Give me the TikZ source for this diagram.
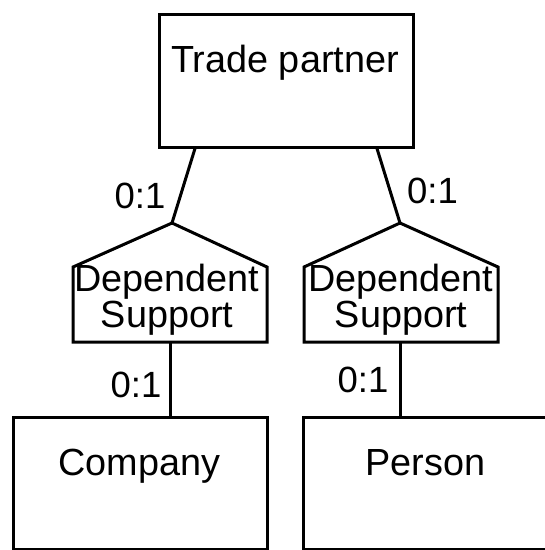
\documentclass[tikz,border=0pt]{standalone}
\usepackage{fontspec}
\setmainfont{Liberation Sans}
\begin{document}
\begin{tikzpicture}[x=1pt,y=-1pt,
  ln/.style={line width=3pt,line join=miter},
  ent/.style={draw,line width=3pt,rectangle,inner sep=0pt},
  txt/.style={font=\fontsize{37.8}{32}\selectfont,inner sep=0pt,anchor=base,align=center},
  card/.style={font=\fontsize{36.5}{36.5}\selectfont,inner sep=0pt,anchor=base}]
\useasboundingbox (0,0) rectangle (545,550);
\clip (0,0) rectangle (545,550);
% entity boxes
\node[ent,minimum width=254pt,minimum height=133pt] (tp) at (286,80.5) {};
\node[ent,minimum width=254pt,minimum height=132pt] (co) at (140,483) {};
\node[ent,minimum width=245pt,minimum height=132pt] (pe) at (425.5,483) {};
\node[txt] (tptxt) at (285,72) {Trade partner};
\node[txt] (cotxt) at (139.5,475) {Company};
\node[txt] (petxt) at (425.5,475) {Person};
% left dependent support
\coordinate (la) at (172,223);
\coordinate (ll) at (73,267);
\coordinate (lr) at (267,267);
\coordinate (lbl) at (73,342);
\coordinate (lbr) at (267,342);
\coordinate (lb) at (170,342);
\draw[ln] (la) -- (lr) -- (lbr) -- (lbl) -- (ll) -- cycle;
\node[txt] (ld) at (167,327) {Dependent\\Support};
% right dependent support
\coordinate (ra) at (400,223);
\coordinate (rl) at (304,267);
\coordinate (rr) at (498,267);
\coordinate (rbl) at (304,342);
\coordinate (rbr) at (498,342);
\coordinate (rb) at (400,342);
\draw[ln] (ra) -- (rr) -- (rbr) -- (rbl) -- (rl) -- cycle;
\node[txt] (rd) at (401,327) {Dependent\\Support};
% connectors
\draw[ln] (tp.south -| 195,0) -- (la);
\draw[ln] (tp.south -| 377,0) -- (ra);
\draw[ln] (lb) -- (co.north -| lb);
\draw[ln] (rb) -- (pe.north -| rb);
% cardinalities
\node[card] (c1) at (140,208) {0:1};
\node[card] (c2) at (432.5,203) {0:1};
\node[card] (c3) at (136,397) {0:1};
\node[card] (c4) at (363,392) {0:1};
\end{tikzpicture}
\end{document}
